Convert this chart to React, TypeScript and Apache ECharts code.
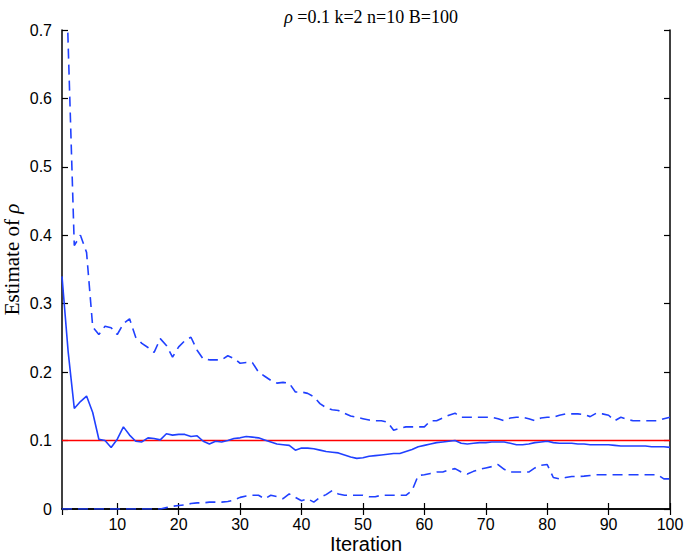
import React, { useEffect, useRef } from "react";
import * as echarts from "echarts";

const iterations: number[] = Array.from({ length: 100 }, (_, i) => i + 1);

const meanEstimate: number[] = [
  0.34, 0.23, 0.147, 0.157, 0.165, 0.141, 0.102, 0.1, 0.09, 0.102,
  0.12, 0.108, 0.099, 0.098, 0.104, 0.103, 0.101, 0.11, 0.108, 0.109,
  0.109, 0.106, 0.107, 0.099, 0.095, 0.099, 0.098, 0.1, 0.103, 0.104,
  0.106, 0.105, 0.104, 0.101, 0.098, 0.095, 0.094, 0.093, 0.086, 0.089,
  0.089, 0.088, 0.086, 0.084, 0.083, 0.082, 0.079, 0.076, 0.074, 0.075,
  0.077, 0.078, 0.079, 0.08, 0.081, 0.081, 0.084, 0.087, 0.091, 0.093,
  0.095, 0.097, 0.098, 0.099, 0.1, 0.096, 0.095, 0.096, 0.097, 0.097,
  0.098, 0.098, 0.098, 0.096, 0.094, 0.094, 0.095, 0.097, 0.098, 0.099,
  0.097, 0.096, 0.096, 0.096, 0.095, 0.095, 0.094, 0.094, 0.094, 0.094,
  0.093, 0.092, 0.092, 0.092, 0.092, 0.092, 0.091, 0.091, 0.091, 0.09,
];

const upperBound: number[] = [
  1.0, 0.68, 0.385, 0.4, 0.375, 0.266, 0.255, 0.267, 0.265, 0.255,
  0.271, 0.278, 0.251, 0.242, 0.236, 0.229, 0.249, 0.239, 0.222, 0.237,
  0.246, 0.251, 0.232, 0.219, 0.218, 0.218, 0.218, 0.224, 0.22, 0.213,
  0.214, 0.214, 0.2, 0.194, 0.188, 0.184, 0.185, 0.184, 0.171, 0.171,
  0.169, 0.164, 0.154, 0.148, 0.145, 0.144, 0.14, 0.136, 0.134, 0.132,
  0.13, 0.129, 0.129, 0.127, 0.115, 0.118, 0.12, 0.12, 0.12, 0.12,
  0.129, 0.129, 0.133, 0.137, 0.14, 0.134, 0.134, 0.134, 0.134, 0.134,
  0.134, 0.132, 0.129, 0.133, 0.134, 0.134, 0.132, 0.129, 0.133, 0.134,
  0.134, 0.137, 0.139, 0.139, 0.139, 0.138, 0.135, 0.14, 0.139, 0.137,
  0.129, 0.134, 0.131, 0.129, 0.129, 0.129, 0.129, 0.129, 0.132, 0.134,
];

const lowerBound: number[] = [
  0, 0, 0, 0, 0, 0, 0, 0, 0, 0,
  0, 0, 0, 0, 0, 0, 0, 0.002, 0.004, 0.005,
  0.006, 0.008, 0.009, 0.009, 0.01, 0.01, 0.01, 0.011, 0.013, 0.017,
  0.019, 0.02, 0.02, 0.015, 0.02, 0.018, 0.015, 0.022, 0.017, 0.012,
  0.015, 0.01, 0.017, 0.021, 0.027, 0.022, 0.02, 0.02, 0.02, 0.02,
  0.018, 0.018, 0.02, 0.02, 0.02, 0.02, 0.02, 0.027, 0.049, 0.05,
  0.052, 0.054, 0.054, 0.057, 0.059, 0.054, 0.051, 0.055, 0.058, 0.06,
  0.062, 0.065, 0.058, 0.054, 0.054, 0.054, 0.054, 0.06, 0.064, 0.065,
  0.046, 0.044, 0.046, 0.0475, 0.0475, 0.048, 0.049, 0.05, 0.05, 0.05,
  0.05, 0.05, 0.05, 0.05, 0.05, 0.05, 0.05, 0.05, 0.044, 0.044,
];

const trueRho = 0.1;

const BLUE = "#2040ff";
const SERIF = "'Liberation Serif', 'Times New Roman', serif";
const SANS = "'Liberation Sans', Arial, sans-serif";

export default function App() {
  const ref = useRef<HTMLDivElement>(null);

  useEffect(() => {
    if (!ref.current) return;
    const chart = echarts.init(ref.current, undefined, { renderer: "svg" });
    const pairs = (vals: number[]) => iterations.map((x, i) => [x, vals[i]]);
    const tickCommon = {
      axisLine: { show: true, lineStyle: { color: "#000", width: 1.5 } },
      axisTick: { show: true, inside: true, length: 6, lineStyle: { color: "#000", width: 1.2 } },
      splitLine: { show: false },
    };
    chart.setOption({
      animation: false,
      backgroundColor: "#fff",
      title: {
        text: "{i|ρ} =0.1 k=2 n=10 B=100",
        left: 366,
        textAlign: "center",
        top: 3,
        textStyle: {
          fontFamily: SERIF,
          fontSize: 18,
          fontWeight: "normal",
          color: "#000",
          rich: {
            i: { fontFamily: SERIF, fontSize: 18, fontStyle: "italic", color: "#000" },
          },
        },
      },
      grid: {
        left: 62,
        right: 15,
        top: 30,
        bottom: 48,
        containLabel: false,
        outerBoundsMode: "none",
      },
      xAxis: [
        {
          type: "value",
          min: 1,
          max: 100,
          splitNumber: 10,
          minInterval: 10,
          maxInterval: 10,
          ...tickCommon,
          axisLabel: {
            showMinLabel: false,
            formatter: (v: number) => (v === 1 ? "" : String(v)),
            fontFamily: SANS,
            fontSize: 16,
            color: "#000",
            margin: 7,
          },
          name: "Iteration",
          nameLocation: "middle",
          nameGap: 25,
          nameMoveOverlap: false,
          nameTextStyle: { fontFamily: SANS, fontSize: 20, color: "#000", lineHeight: 20 },
        },
        {
          type: "value",
          position: "top",
          min: 1,
          max: 100,
          splitNumber: 10,
          minInterval: 10,
          maxInterval: 10,
          ...tickCommon,
          axisLabel: { show: false },
        },
      ],
      yAxis: [
        {
          type: "value",
          min: 0,
          max: 0.7,
          interval: 0.1,
          ...tickCommon,
          axisLabel: {
            fontFamily: SANS,
            fontSize: 16,
            color: "#000",
            margin: 10,
          },
          name: "Estimate of {i|ρ}",
          nameLocation: "middle",
          nameGap: 40,
          nameRotate: 90,
          nameMoveOverlap: false,
          nameTextStyle: {
            fontFamily: SERIF,
            fontSize: 21,
            lineHeight: 21,
            color: "#000",
            padding: [0, 0, 0, 20],
            rich: {
              i: { fontFamily: SERIF, fontSize: 21, fontStyle: "italic", color: "#000" },
            },
          },
        },
        {
          type: "value",
          position: "right",
          min: 0,
          max: 0.7,
          interval: 0.1,
          ...tickCommon,
          axisLabel: { show: false },
        },
      ],
      series: [
        {
          type: "line",
          name: "true",
          data: iterations.map((x) => [x, trueRho]),
          showSymbol: false,
          symbol: "none",
          lineStyle: { color: "#ff0000", width: 1.6 },
          z: 3,
        },
        {
          type: "line",
          name: "mean",
          data: pairs(meanEstimate),
          showSymbol: false,
          symbol: "none",
          clip: true,
          lineStyle: { color: BLUE, width: 1.6 },
          z: 4,
        },
        {
          type: "line",
          name: "upper",
          data: pairs(upperBound),
          showSymbol: false,
          symbol: "none",
          clip: true,
          lineStyle: { color: BLUE, width: 1.6, type: [10, 6] },
          z: 4,
        },
        {
          type: "line",
          name: "lower",
          data: pairs(lowerBound),
          showSymbol: false,
          symbol: "none",
          clip: true,
          lineStyle: { color: BLUE, width: 1.6, type: [10, 6] },
          z: 4,
        },
      ],
    });
    return () => chart.dispose();
  }, []);

  return (
    <div
      ref={ref}
      style={{ position: "fixed", left: 0, top: 0, width: 685, height: 557, background: "#fff" }}
    />
  );
}
